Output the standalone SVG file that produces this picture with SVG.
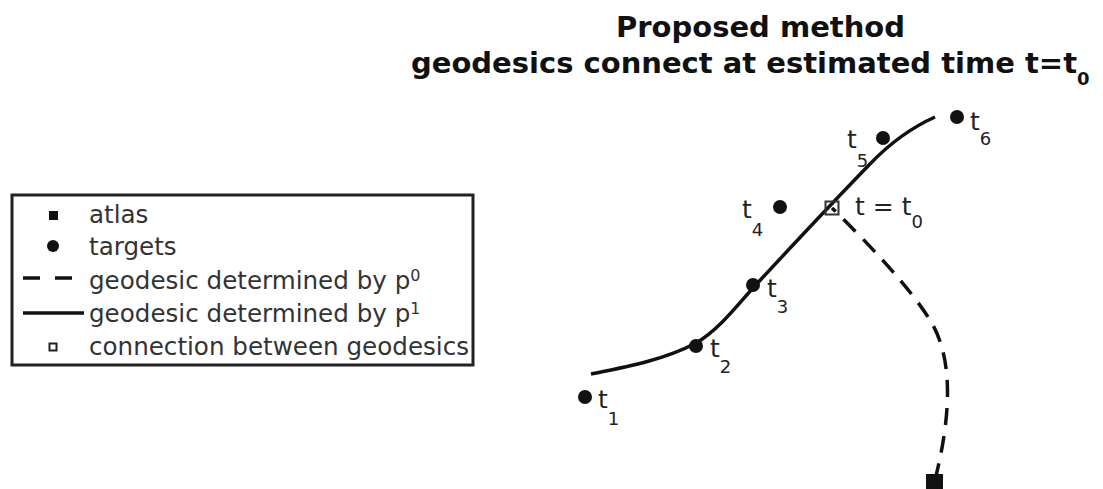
<svg xmlns="http://www.w3.org/2000/svg" width="1103" height="489" viewBox="0 0 1103 489">
  <style>
    .title { font-family: "DejaVu Sans", sans-serif; font-weight: bold; font-size: 29px; fill: #111; }
    .leg { font-family: "DejaVu Sans", sans-serif; font-size: 24.6px; fill: #333; }
    .lbl { font-family: "DejaVu Sans", sans-serif; font-size: 25px; fill: #222; }
    .sub { font-size: 18px; }
    .sup { font-size: 16px; }
    .dot { fill: #111; }
    .solid { fill: none; stroke: #111; stroke-width: 3.5; }
    .dash { fill: none; stroke: #111; stroke-width: 3.5; stroke-dasharray: 17 11; }
  </style>
  <rect width="1103" height="489" fill="#fff"/>

  <g id="title">
    <text class="title" x="616" y="37">Proposed method</text>
    <text class="title" x="411" y="73">geodesics connect at estimated time t=t<tspan class="sub" y="85">0</tspan></text>
  </g>

  <g id="legend">
    <rect x="12" y="195" width="461" height="170" fill="#fff" stroke="#222" stroke-width="3"/>
    <rect x="49" y="211" width="9" height="9" fill="#111"/>
    <text class="leg" x="89" y="223">atlas</text>
    <circle cx="53" cy="246" r="6" fill="#111"/>
    <text class="leg" x="89" y="255">targets</text>
    <line x1="23" y1="278" x2="40" y2="278" stroke="#111" stroke-width="3.5"/>
    <line x1="55" y1="278" x2="72" y2="278" stroke="#111" stroke-width="3.5"/>
    <text class="leg" x="89" y="289">geodesic determined by p<tspan class="sup" y="281">0</tspan></text>
    <line x1="23" y1="313" x2="84" y2="313" stroke="#111" stroke-width="3.5"/>
    <text class="leg" x="89" y="322">geodesic determined by p<tspan class="sup" y="314">1</tspan></text>
    <rect x="49.5" y="343.5" width="7" height="7" fill="#fff" stroke="#222" stroke-width="2"/>
    <text class="leg" x="89" y="355">connection between geodesics</text>
  </g>

  <g id="connectors">
    <path id="geodesic-p1" class="solid" d="M591,374 C626,367 664,360 696,343 C719,330 740,302 753,288 C790,248 835,200 870,164 C892,141 915,126 935,117"/>
    <path id="geodesic-p0" class="dash" d="M935,480 C950,420 955,360 930,320 C910,288 870,245 832,208"/>
  </g>

  <g id="atlas">
    <rect x="926" y="474" width="17" height="17" fill="#111"/>
  </g>
  <g id="connection">
    <rect x="825.5" y="201.5" width="13" height="13" fill="none" stroke="#333" stroke-width="2"/>
    <text class="lbl" x="855" y="215">t = t<tspan class="sub" y="228">0</tspan></text>
  </g>
  <g id="t1">
    <circle class="dot" cx="585" cy="397" r="7"/>
    <text class="lbl" x="598" y="408">t<tspan class="sub" y="425">1</tspan></text>
  </g>
  <g id="t2">
    <circle class="dot" cx="696" cy="346" r="7"/>
    <text class="lbl" x="710" y="357">t<tspan class="sub" y="373">2</tspan></text>
  </g>
  <g id="t3">
    <circle class="dot" cx="753" cy="285" r="7"/>
    <text class="lbl" x="767" y="297">t<tspan class="sub" y="313">3</tspan></text>
  </g>
  <g id="t4">
    <circle class="dot" cx="780" cy="207" r="7"/>
    <text class="lbl" x="742" y="218">t<tspan class="sub" y="236">4</tspan></text>
  </g>
  <g id="t5">
    <circle class="dot" cx="883" cy="138" r="7"/>
    <text class="lbl" x="847" y="148">t<tspan class="sub" y="167">5</tspan></text>
  </g>
  <g id="t6">
    <circle class="dot" cx="957" cy="117" r="7"/>
    <text class="lbl" x="970" y="130">t<tspan class="sub" y="145">6</tspan></text>
  </g>
</svg>
